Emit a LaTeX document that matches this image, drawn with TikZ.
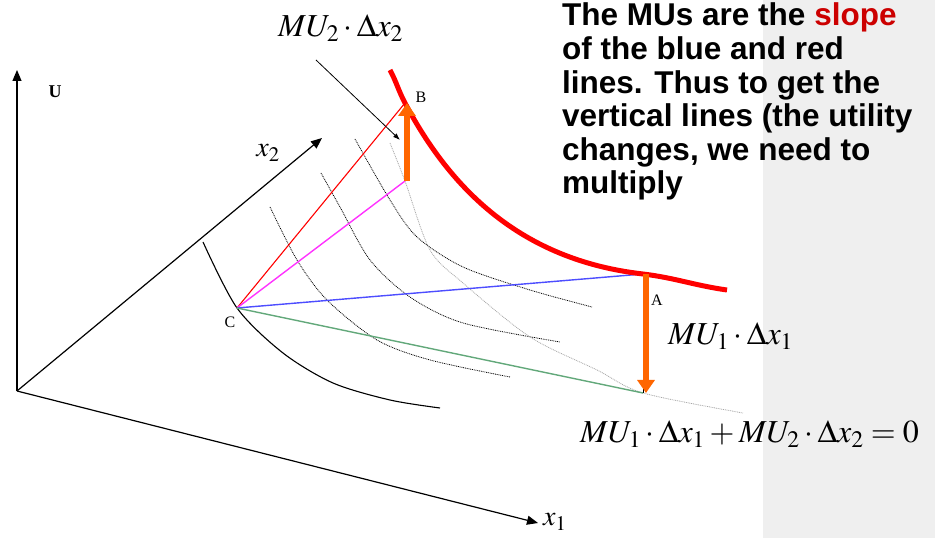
\documentclass[tikz,border=0pt]{standalone}
\usepackage{mathptmx}
\usepackage[no-math]{fontspec}
\setmainfont{Liberation Serif}
\newfontfamily\notefont{Liberation Sans}
\usepackage{xcolor}
\usetikzlibrary{arrows.meta}

\definecolor{panelgray}{HTML}{EFEFEF}
\definecolor{arrorange}{HTML}{FF6600}
\definecolor{slopered}{HTML}{CC0000}
\definecolor{lineblue}{HTML}{4D4DFF}
\definecolor{linegreen}{HTML}{62A87A}
\definecolor{linemag}{HTML}{FF33FF}

\begin{document}
\begin{tikzpicture}[x=1pt, y=1pt,
    axis/.style = {line width=1.2pt, -{Triangle[length=11pt, width=9pt]}},
    icurve/.style = {line width=0.8pt, dash pattern=on 0.9pt off 0.9pt},
    ray/.style = {line width=1.4pt},
    bigarrow/.style = {arrorange, line width=6pt, -{Triangle[length=13pt, width=17pt]}},
    pointer/.style = {line width=0.8pt, -{Latex[length=7pt, width=5pt]}},
    pt/.style = {font=\fontsize{16}{18}\selectfont, inner sep=0pt},
    formula/.style = {font=\fontsize{32}{36}\selectfont, inner sep=0pt, anchor=base west}]
    \useasboundingbox (0,0) rectangle (935,538);
    \fill[panelgray] (763,0) rectangle (935,538);

    % 坐标定义
    \coordinate (O) at (17,147);
    \coordinate (Utip) at (17,468);
    \coordinate (x2tip) at (322,400);
    \coordinate (x1tip) at (538,15);
    \coordinate (C) at (237,230);
    \coordinate (B) at (405,435);
    \coordinate (Bm) at (405,357);
    \coordinate (A) at (643,264);
    \coordinate (Ag) at (643,145);
    \coordinate (ptrs) at (316,478);
    \coordinate (ptre) at (400,398);

    % 坐标轴
    \draw[axis] (O) -- (Utip);
    \draw[axis] (O) -- (x2tip);
    \draw[axis] (O) -- (x1tip);
    \node[pt, font=\fontsize{18}{20}\selectfont\bfseries] (lblU) at (55,446) {U};
    \node[inner sep=0pt, font=\fontsize{28}{32}\selectfont] (lblx2) at (268,385) {$x_2$};
    \node[inner sep=0pt, anchor=west, font=\fontsize{28}{32}\selectfont] (lblx1) at (543,16) {$x_1$};

    % 无差异曲线
    \draw[icurve] plot[smooth] coordinates {(270,331) (297,278) (327,238) (377,198) (430,178) (510,161)};
    \draw[icurve] plot[smooth] coordinates {(321,365) (340,331) (370,278) (410,241) (463,215) (560,196)};
    \draw[icurve] plot[smooth] coordinates {(355,399) (390,338) (417,301) (463,271) (530,248) (592,231)};
    \draw[icurve, gray!70] plot[smooth] coordinates {(390,395) (Bm) (430,288) (463,255) (530,201) (597,168) (Ag) (743,125)};
    \draw[line width=1.1pt] plot[smooth] coordinates {(203,296) (C) (283,185) (333,155) (390,138) (440,130)};

    % 从 C 出发的线
    \draw[red, line width=1.1pt] (C) -- (B);
    \draw[ray, linemag] (C) -- (Bm);
    \draw[ray, lineblue] (C) -- (A);
    \draw[ray, linegreen] (C) -- (Ag);
    \draw[line width=0.8pt] (B) -- (Bm);
    \draw[line width=0.8pt] (A) -- (Ag);

    % 红色曲线与箭头
    \draw[red, line width=5pt] (390,468) to[out=-62, in=118] (B)
        .. controls (450,350) and (520,278) .. (A) to[out=-7, in=172] (727,248);
    \draw[bigarrow] ([xshift=2pt]Bm) -- ([xshift=2pt]B);
    \draw[bigarrow] ([xshift=3pt]A) -- ([xshift=3pt]Ag);
    \draw[pointer] (ptrs) -- (ptre);

    \node[pt] (lblB) at (421,441) {B};
    \node[pt] (lblA) at (657,238) {A};
    \node[pt] (lblC) at (230,216) {C};

    % 公式
    \node[formula] (mu2) at (278,501) {$MU_2\cdot\Delta x_2$};
    \node[formula] (mu1) at (668,193) {$MU_1\cdot\Delta x_1$};
    \node[formula] (eq) at (580,95) {$MU_1\cdot\Delta x_1+MU_2\cdot\Delta x_2=0$};

    % 说明文字
    \node[anchor=base west, inner sep=0pt, align=left,
          font=\notefont\bfseries\fontsize{31.5}{33.6}\selectfont] (note) at (562,344)
      {The MUs are the \textcolor{slopered}{slope}\\
       of the blue and red\\
       lines. Thus to get the\\
       vertical lines (the utility\\
       changes, we need to\\
       multiply};
\end{tikzpicture}
\end{document}
